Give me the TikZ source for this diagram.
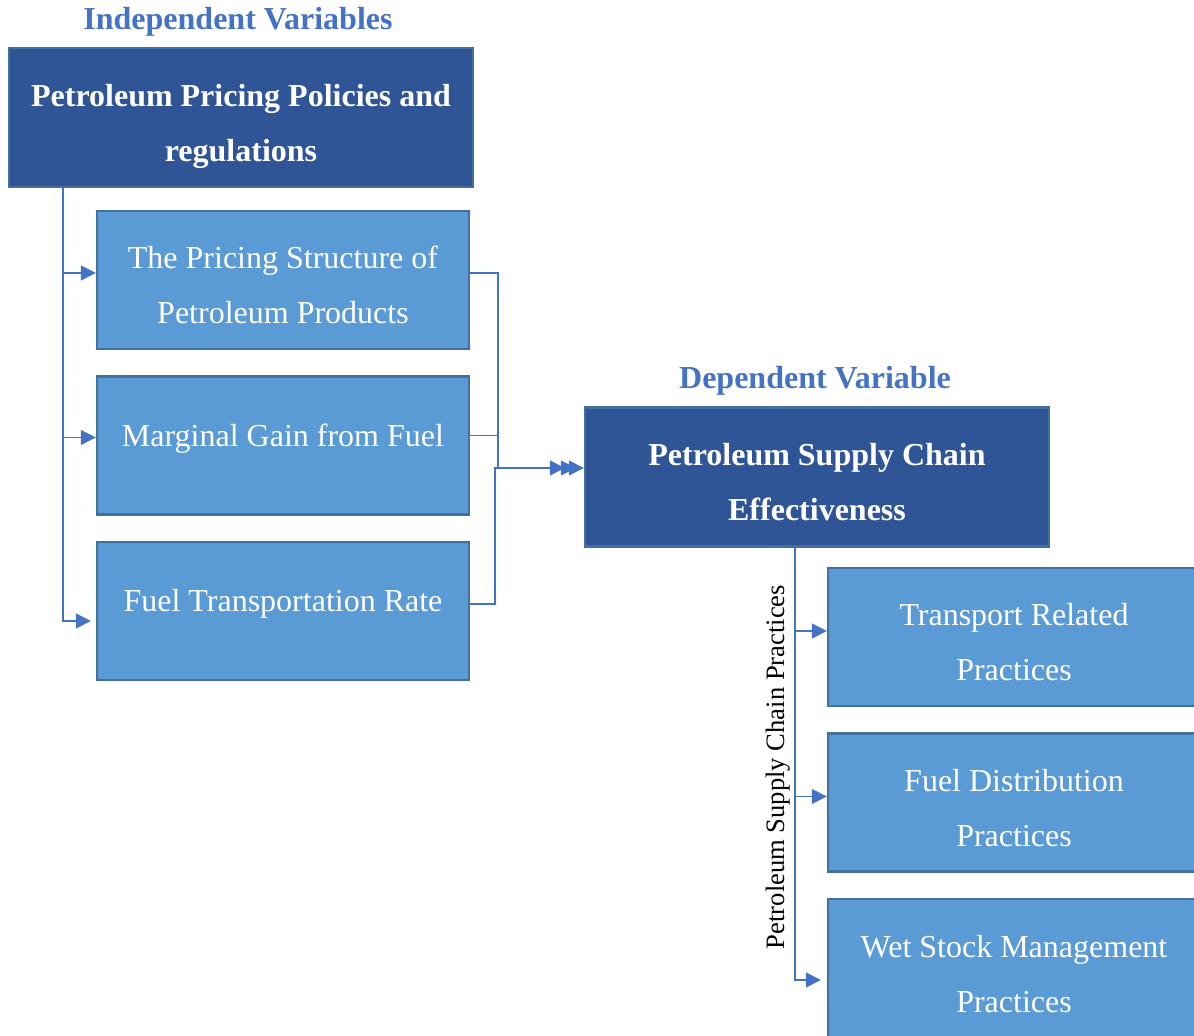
\documentclass[tikz,border=0pt]{standalone}
\usepackage{fontspec}
\setmainfont{Liberation Serif}
\usetikzlibrary{shapes, calc, arrows.meta}
\definecolor{darkblue}{HTML}{2F5597}
\definecolor{midblue}{HTML}{5B9BD5}
\definecolor{edgeblue}{HTML}{41719C}
\definecolor{lineblue}{HTML}{4472C4}

\begin{document}
\begin{tikzpicture}[x=0.5pt, y=-0.5pt,
  main/.style={rectangle, draw=edgeblue, line width=1.2pt, fill=darkblue, text=white, align=center,
    font=\bfseries\fontsize{16}{27.5}\selectfont, minimum width=232pt, minimum height=69.5pt,
    text height=44pt, text depth=0pt},
  sub/.style={rectangle, draw=edgeblue, line width=1.2pt, fill=midblue, text=white, align=center,
    font=\fontsize{16}{27.5}\selectfont, minimum width=186pt, minimum height=69pt,
    text height=44pt, text depth=0pt},
  oneline/.style={text height=11pt, text depth=10pt},
  head/.style={text=lineblue, font=\bfseries\fontsize{16}{19}\selectfont},
  link/.style={draw=lineblue, line width=0.75pt, -{Triangle[length=7.5pt,width=7.5pt]}}]
\useasboundingbox (0,0) rectangle (1194,1036);

\node[head] (10) at (238,22) {Independent Variables};
\node[head] (11) at (815,381) {Dependent Variable};

\node[main] (1) at (241,117.5) {Petroleum Pricing Policies and\\regulations};

\node[sub] (2) at (283,280) {The Pricing Structure of\\Petroleum Products};
\node[sub, oneline] (3) at (283,445.5) {Marginal Gain from Fuel};
\node[sub, oneline] (4) at (283,611) {Fuel Transportation Rate};

\node[main] (5) at (817,477) {Petroleum Supply Chain\\Effectiveness};

\node[sub] (6) at (1014,637) {Transport Related\\Practices};
\node[sub] (7) at (1014,802.5) {Fuel Distribution\\Practices};
\node[sub] (8) at (1014,968) {Wet Stock Management\\Practices};

\node[rotate=90, font=\fontsize{13.3}{16}\selectfont] (9) at (778,767) {Petroleum Supply Chain Practices};

\draw[link] ($(1.south west)+(55,0)$) |- ([yshift=3.5pt]2.west);
\draw[link] ($(1.south west)+(55,0)$) |- ([yshift=4pt]3.west);
\draw[link] ($(1.south west)+(55,0)$) |- ([xshift=-2.5pt,yshift=-5pt]4.west);

\draw[link] ([yshift=3.5pt]2.east) -- ++(28,0) |- ($(5.west)+(-19,-9)$);
\draw[link] ([yshift=5pt]3.east) -- ++(28,0) |- ($(5.west)+(-8,-9)$);
\draw[link] ([yshift=3.5pt]4.east) -- ++(25,0) |- ($(5.west)+(0,-9)$);

\draw[link] ($(5.south)+(-50,0)$) -- ++(28,0) |- ([yshift=3pt]6.west);
\draw[link] ($(5.south)+(-22,0)$) |- ([yshift=3pt]7.west);
\draw[link] ($(5.south)+(-22,0)$) |- ([xshift=-3pt,yshift=-6pt]8.west);
\end{tikzpicture}
\end{document}
